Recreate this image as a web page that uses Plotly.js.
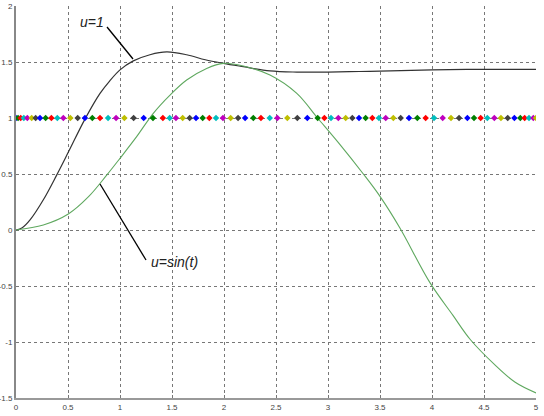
<!DOCTYPE html>
<html>
<head>
<meta charset="utf-8">
<script src="https://cdn.plot.ly/plotly-3.0.1.min.js"></script>
<style>html,body{margin:0;padding:0;background:#fff;}#chart{width:544px;height:416px;}</style>
</head>
<body>
<div id="chart"></div>
<script>
// Response to u=1 (black)
var tStep = [0, 0.06, 0.135, 0.263, 0.391, 0.506, 0.663, 0.808, 0.9, 1.0, 1.128, 1.288, 1.45, 1.641, 1.82, 1.994, 2.186, 2.442, 2.7, 3.0, 3.3, 3.6, 4.0, 4.5, 5.0];
var yStep = [0, 0.02, 0.09, 0.27, 0.49, 0.70, 0.99, 1.22, 1.33, 1.43, 1.51, 1.565, 1.59, 1.565, 1.52, 1.488, 1.458, 1.42, 1.41, 1.41, 1.415, 1.42, 1.43, 1.435, 1.435];
// Response to u=sin(t) (green)
var tSin = [0, 0.263, 0.503, 0.7, 0.872, 1.0, 1.16, 1.32, 1.481, 1.641, 1.833, 1.994, 2.186, 2.442, 2.7, 2.9, 3.1, 3.34, 3.5, 3.69, 3.98, 4.2, 4.37, 4.6, 4.8, 5.0];
var ySin = [0, 0.045, 0.143, 0.30, 0.49, 0.64, 0.833, 1.042, 1.205, 1.339, 1.443, 1.488, 1.464, 1.384, 1.22, 1.0, 0.78, 0.5, 0.30, 0.02, -0.47, -0.76, -0.98, -1.2, -1.36, -1.455];
// Solver time steps (markers at level 1)
var tSteps = [0, 0.02, 0.045, 0.075, 0.109, 0.151, 0.189, 0.231, 0.285, 0.340, 0.397, 0.455, 0.522, 0.593, 0.663, 0.734, 0.808, 0.885, 0.962, 1.042, 1.131, 1.228, 1.317, 1.412, 1.478, 1.538, 1.603, 1.670, 1.731, 1.795, 1.859, 1.923, 1.99, 2.064, 2.135, 2.203, 2.282, 2.355, 2.44, 2.513, 2.609, 2.705, 2.801, 2.901, 2.965, 3.029, 3.099, 3.170, 3.234, 3.298, 3.362, 3.426, 3.490, 3.555, 3.628, 3.699, 3.779, 3.859, 3.939, 4.019, 4.103, 4.183, 4.260, 4.340, 4.404, 4.468, 4.532, 4.599, 4.663, 4.728, 4.792, 4.849, 4.891, 4.933, 4.974, 5.0];
var stepLevel = tSteps.map(function(){return 1;});
var palette = ['#0000ff', '#008000', '#ff0000', '#00bfbf', '#bf00bf', '#bfbf00', '#404040'];
var markerColors = tSteps.map(function(_, i){return palette[i % palette.length];});

var xTicks = [0, 0.5, 1, 1.5, 2, 2.5, 3, 3.5, 4, 4.5, 5];
var xTickText = ['0', '0.5', '1', '1.5', '2', '2.5', '3', '3.5', '4', '4.5', '5'];
var yTicks = [-1.5, -1, -0.5, 0, 0.5, 1, 1.5, 2];
var yTickText = ['-1.5', '-1', '-0.5', '0', '0.5', '1', '1.5', '2'];

var traces = [
  {x: tStep, y: yStep, mode: 'lines', line: {color: '#333333', width: 1.2, shape: 'spline', smoothing: 1}, hoverinfo: 'skip'},
  {x: tSin, y: ySin, mode: 'lines', line: {color: '#5fa85f', width: 1.1, shape: 'spline', smoothing: 1}, hoverinfo: 'skip'},
  {x: tSteps, y: stepLevel, mode: 'markers', marker: {symbol: 'diamond', size: 5, color: markerColors}, hoverinfo: 'skip'}
];

var layout = {
  width: 544, height: 416,
  margin: {l: 16, r: 8, t: 6, b: 18},
  paper_bgcolor: '#ffffff', plot_bgcolor: '#ffffff',
  showlegend: false,
  font: {family: 'Liberation Sans, Arial, sans-serif', size: 8, color: '#444'},
  xaxis: {range: [0, 5], tickvals: xTicks, ticktext: xTickText, showgrid: true, gridcolor: '#777', griddash: 'dot', gridwidth: 1,
          zeroline: false, showline: true, linecolor: '#999', linewidth: 2, ticks: 'inside', ticklen: 3, tickcolor: '#777',
          ticklabelstandoff: 0, tickfont: {size: 8, color: '#444'}, fixedrange: true},
  yaxis: {range: [-1.5, 2], tickvals: yTicks, ticktext: yTickText, showgrid: true, gridcolor: '#777', griddash: 'dot', gridwidth: 1,
          zeroline: false, showline: true, linecolor: '#888', linewidth: 2, ticks: '', ticklabelstandoff: 0,
          tickfont: {size: 8, color: '#444'}, fixedrange: true},
  shapes: [
    {type: 'line', xref: 'x', yref: 'y', x0: 0.875, y0: 1.8125, x1: 1.125, y1: 1.527, line: {color: '#000', width: 1.3}},
    {type: 'line', xref: 'x', yref: 'y', x0: 0.808, y0: 0.411, x1: 1.25, y1: -0.268, line: {color: '#000', width: 1.3}}
  ],
  annotations: [
    {x: 0.73, y: 1.857, xref: 'x', yref: 'y', text: '<i>u=1</i>', showarrow: false, font: {size: 14, color: '#222', family: 'Liberation Sans, Arial, sans-serif'}},
    {x: 1.52, y: -0.286, xref: 'x', yref: 'y', text: '<i>u=sin(t)</i>', showarrow: false, font: {size: 14, color: '#222', family: 'Liberation Sans, Arial, sans-serif'}}
  ]
};

Plotly.newPlot('chart', traces, layout, {displayModeBar: false, staticPlot: true});
</script>
</body>
</html>
